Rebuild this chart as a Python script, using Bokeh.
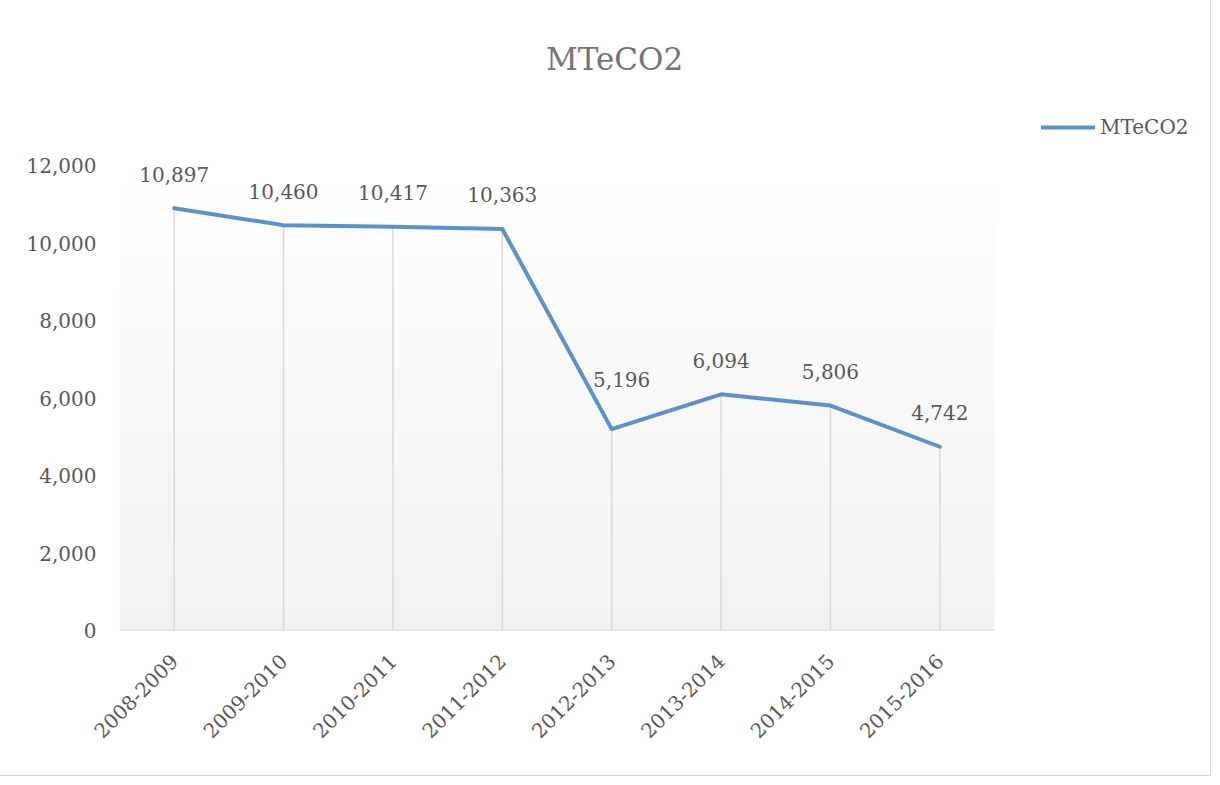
import numpy as np
from bokeh.plotting import figure
from bokeh.models import Range1d, NumeralTickFormatter, Legend, LegendItem, Label, ColumnDataSource, FixedTicker
from bokeh.core.properties import value
from bokeh.embed import file_html
from bokeh.resources import INLINE
from math import pi

categories = ["2008-2009", "2009-2010", "2010-2011", "2011-2012",
              "2012-2013", "2013-2014", "2014-2015", "2015-2016"]
values = [10897, 10460, 10417, 10363, 5196, 6094, 5806, 4742]
series_name = "MTeCO2"
title_text = "MTeCO2"
y_ticks = [0, 2000, 4000, 6000, 8000, 10000, 12000]

# label placement nudges (pixels), styling only
label_dx = [0, 0, 0, 0, 10, 0, 0, 0]
label_dy = [-34, -34, -34, -34, -50, -34, -34, -34]

FONT = "DejaVu Serif"
TXT = "#595959"
LINE = "#5b92cc"
GRID = "#d9d9d9"

W, H = 1210, 775
LEFT, TOP, RIGHT, BOTTOM = 119, 5, 5, 145
PLOT_W = 875    # width of the category area in px
PLOT_H = 465    # height of 0..12000 in px
frame_w = W - LEFT - RIGHT
frame_h = H - TOP - BOTTOM
ncat = len(categories)
ymax = y_ticks[-1]
step = PLOT_W / ncat
x_end = -0.5 + frame_w / step
y_end = ymax * frame_h / PLOT_H

p = figure(width=W, height=H, x_range=Range1d(-0.5, x_end), y_range=Range1d(0, y_end),
           output_backend="svg", toolbar_location=None,
           min_border_left=LEFT, min_border_right=RIGHT, min_border_top=TOP, min_border_bottom=BOTTOM)
p.title = None
p.outline_line_color = None
p.grid.visible = False
p.background_fill_color = "white"
p.styles = {"outline": "1.5px solid #d9d9d9"}

xs = list(range(ncat))

# gradient background of plot area
n = 120
img = np.zeros((n, 1), dtype=np.uint32)
view = img.view(dtype=np.uint8).reshape((n, 1, 4))
for i, t in enumerate(np.linspace(0, 1, n)):
    c = int(round(242 + (255 - 242) * t))
    view[i, 0, :] = [c, c, c, 255]
p.image_rgba(image=[img], x=-0.5, y=0, dw=ncat, dh=ymax)

src = ColumnDataSource(dict(x=xs, y=values, zero=[0] * ncat, lbl=[f"{v:,}" for v in values],
                            dx=label_dx, dy=label_dy))
p.segment(x0="x", y0="zero", x1="x", y1="y", source=src, line_color=GRID, line_width=1.5)
# category axis line
p.segment(x0=[-0.5], y0=[0], x1=[ncat - 0.5], y1=[0], line_color=GRID, line_width=2)
r = p.line(x="x", y="y", source=src, line_color=LINE, line_width=4, line_join="round", line_cap="round")
p.text(x="x", y="y", text="lbl", source=src, text_align="center", text_baseline="middle",
       x_offset="dx", y_offset="dy", text_font=value(FONT), text_font_size="20px", text_color=TXT)

# axes
p.yaxis.formatter = NumeralTickFormatter(format="0,0")
p.yaxis.ticker = FixedTicker(ticks=y_ticks)
p.yaxis.axis_line_color = None
p.yaxis.major_tick_line_color = None
p.yaxis.minor_tick_line_color = None
p.yaxis.major_label_standoff = 17
p.xaxis.ticker = FixedTicker(ticks=xs)
p.xaxis.major_label_overrides = {i: c for i, c in enumerate(categories)}
p.xaxis.axis_line_color = None
p.xaxis.major_tick_line_color = None
p.xaxis.minor_tick_line_color = None
p.xaxis.major_label_orientation = pi / 4
p.xaxis.major_label_standoff = 21
for ax in (p.xaxis, p.yaxis):
    ax.major_label_text_font = FONT
    ax.major_label_text_font_size = "20px"
    ax.major_label_text_color = TXT

# title
p.add_layout(Label(x=614 - LEFT, y=(H - BOTTOM) - 58, x_units="screen", y_units="screen", text=title_text,
                   text_align="center", text_baseline="middle", text_font=FONT,
                   text_font_size="31px", text_color="#757575"))

legend = Legend(items=[LegendItem(label=series_name, renderers=[r])],
                location=(1041 - LEFT, (H - BOTTOM) - 139),
                glyph_width=54, glyph_height=24, label_standoff=5, padding=0, margin=0,
                border_line_color=None, background_fill_alpha=0,
                label_text_font=FONT, label_text_font_size="20px", label_text_color=TXT)
p.add_layout(legend, "center")

open("out.html", "w").write(file_html(p, INLINE))
